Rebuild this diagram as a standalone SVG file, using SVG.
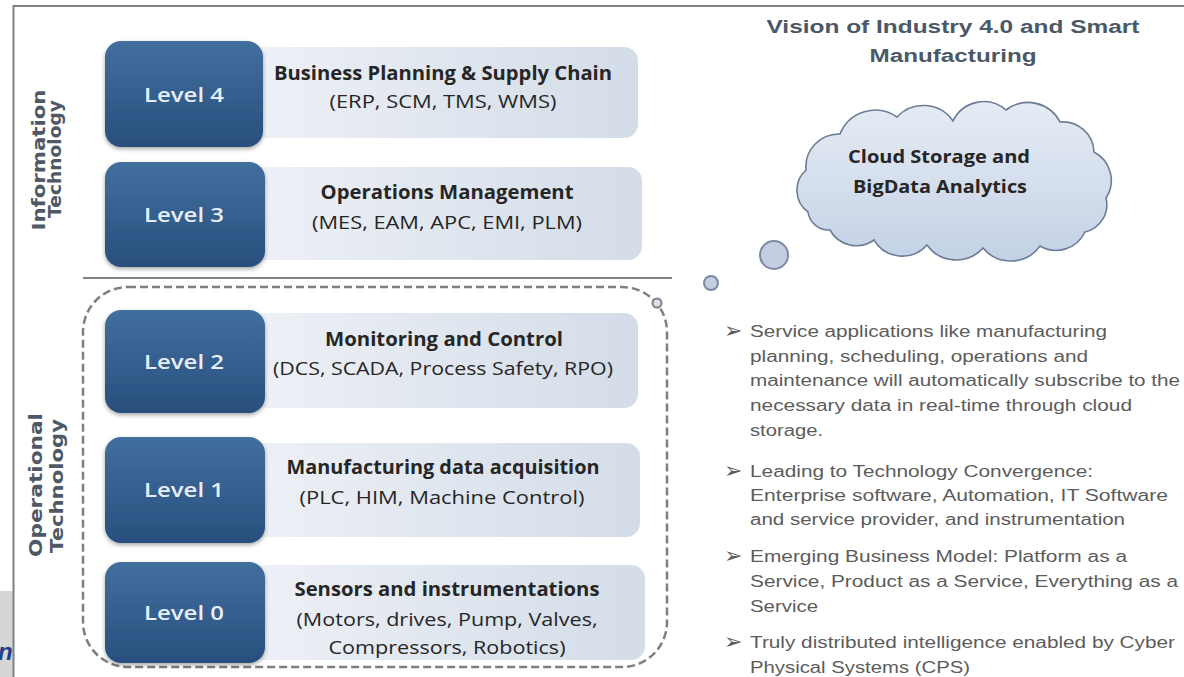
<svg xmlns="http://www.w3.org/2000/svg" width="1184" height="677" viewBox="0 0 1184 677">
<defs>
<linearGradient id="gDark" x1="0" y1="0" x2="0" y2="1">
<stop offset="0" stop-color="#426f9e"/>
<stop offset="1" stop-color="#284f7e"/>
</linearGradient>
<linearGradient id="gLight" x1="0" y1="0" x2="1" y2="0">
<stop offset="0" stop-color="#eef1f6"/>
<stop offset="1" stop-color="#d3dce8"/>
</linearGradient>
<linearGradient id="gCloud" x1="0" y1="0" x2="0" y2="1">
<stop offset="0" stop-color="#e6ecf5"/>
<stop offset="1" stop-color="#c4d1e5"/>
</linearGradient>
<filter id="sh" x="-10%" y="-10%" width="130%" height="130%">
<feDropShadow dx="0" dy="2" stdDeviation="2" flood-color="#000" flood-opacity="0.35"/>
</filter>
<clipPath id="leftClip"><rect x="0" y="580" width="13" height="97"/></clipPath>
<style>
.dark{fill:url(#gDark);filter:url(#sh)}
.light{fill:url(#gLight)}
.lvl{font-family:"Open Sans","Noto Sans",sans-serif;font-weight:600;font-size:19px;fill:#e6eef7;text-anchor:middle}
.hd{font-family:"Open Sans","Noto Sans",sans-serif;font-weight:700;font-size:19px;fill:#262626;text-anchor:middle}
.sub{font-family:"Open Sans","Noto Sans",sans-serif;font-weight:400;font-size:19px;fill:#262626;text-anchor:middle}
.vert{font-family:"DejaVu Sans",sans-serif;font-weight:700;font-size:18px;fill:#4f5966;text-anchor:middle}
.title{font-family:"Liberation Sans",Arial,sans-serif;font-weight:700;font-size:18px;fill:#4b5868;text-anchor:middle}
.cl{font-family:"Open Sans","Noto Sans",sans-serif;font-weight:700;font-size:17px;fill:#262626;text-anchor:middle}
.bt{font-family:"Liberation Sans",Arial,sans-serif;font-size:16px;fill:#5c5c5c}
.bul{font-family:"DejaVu Sans",sans-serif;font-size:22px;fill:#5c5c5c}
.bubble{fill:#c4cee3;stroke:#7b89a2;stroke-width:2}
</style>
</defs>
<rect x="0" y="0" width="1184" height="677" fill="#ffffff"/>
<!-- frame -->
<rect x="0" y="591" width="13" height="86" fill="#d6d6d6"/>
<text x="-2" y="660" clip-path="url(#leftClip)" font-family="Liberation Sans, Arial, sans-serif" font-weight="700" font-style="italic" font-size="24" fill="#1f3d8a">n</text>
<path d="M13.5 677 V6 H1184" fill="none" stroke="#808080" stroke-width="2"/>

<!-- vertical labels -->
<g id="label-it">
<text class="vert" x="45" y="160" transform="rotate(-90 45 160)" textLength="141" lengthAdjust="spacingAndGlyphs">Information</text>
<text class="vert" x="61" y="159" transform="rotate(-90 61 159)" textLength="118" lengthAdjust="spacingAndGlyphs">Technology</text>
</g>
<g id="label-ot">
<text class="vert" x="42" y="485" transform="rotate(-90 42 485)" textLength="144" lengthAdjust="spacingAndGlyphs">Operational</text>
<text class="vert" x="63" y="486" transform="rotate(-90 63 486)" textLength="134" lengthAdjust="spacingAndGlyphs">Technology</text>
</g>

<!-- separator and OT boundary -->
<g id="boundaries">
<line x1="83" y1="278" x2="672" y2="278" stroke="#5a5a5a" stroke-width="1.5"/>
<rect x="83" y="287" width="584" height="380" rx="45" ry="45" fill="none" stroke="#7f7f7f" stroke-width="2.5" stroke-dasharray="8 4"/>
<circle cx="657" cy="303" r="4.5" fill="#d7dfee" stroke="#7f7f7f" stroke-width="2"/>
</g>

<!-- level nodes -->
<g id="level4">
<rect class="light" x="250" y="47" width="388" height="91" rx="14"/>
<rect class="dark" x="105" y="41" width="158" height="106" rx="16"/>
<text class="lvl" x="184" y="102" textLength="80" lengthAdjust="spacingAndGlyphs">Level 4</text>
<text class="hd" x="443" y="80" textLength="338" lengthAdjust="spacingAndGlyphs">Business Planning &amp; Supply Chain</text>
<text class="sub" x="443" y="108" textLength="227" lengthAdjust="spacingAndGlyphs">(ERP, SCM, TMS,  WMS)</text>
</g>
<g id="level3">
<rect class="light" x="250" y="167" width="392" height="93" rx="14"/>
<rect class="dark" x="105" y="162" width="160" height="105" rx="16"/>
<text class="lvl" x="184" y="222" textLength="80" lengthAdjust="spacingAndGlyphs">Level 3</text>
<text class="hd" x="447" y="199" textLength="253" lengthAdjust="spacingAndGlyphs">Operations Management</text>
<text class="sub" x="447" y="229" textLength="270" lengthAdjust="spacingAndGlyphs">(MES, EAM,  APC, EMI, PLM)</text>
</g>
<g id="level2">
<rect class="light" x="250" y="313" width="388" height="95" rx="14"/>
<rect class="dark" x="105" y="310" width="160" height="103" rx="16"/>
<text class="lvl" x="184" y="369" textLength="80" lengthAdjust="spacingAndGlyphs">Level 2</text>
<text class="hd" x="444" y="346" textLength="238" lengthAdjust="spacingAndGlyphs">Monitoring and Control</text>
<text class="sub" x="443" y="375" textLength="340" lengthAdjust="spacingAndGlyphs">(DCS, SCADA, Process Safety, RPO)</text>
</g>
<g id="level1">
<rect class="light" x="250" y="443" width="390" height="94" rx="14"/>
<rect class="dark" x="105" y="437" width="160" height="106" rx="16"/>
<text class="lvl" x="184" y="497" textLength="80" lengthAdjust="spacingAndGlyphs">Level 1</text>
<text class="hd" x="443" y="474" textLength="313" lengthAdjust="spacingAndGlyphs">Manufacturing data acquisition</text>
<text class="sub" x="442" y="504" textLength="285" lengthAdjust="spacingAndGlyphs">(PLC, HIM, Machine Control)</text>
</g>
<g id="level0">
<rect class="light" x="250" y="565" width="395" height="95" rx="14"/>
<rect class="dark" x="105" y="562" width="160" height="101" rx="16"/>
<text class="lvl" x="184" y="620" textLength="80" lengthAdjust="spacingAndGlyphs">Level 0</text>
<text class="hd" x="447" y="596" textLength="305" lengthAdjust="spacingAndGlyphs">Sensors and instrumentations</text>
<text class="sub" x="447" y="626" textLength="301" lengthAdjust="spacingAndGlyphs">(Motors, drives, Pump, Valves,</text>
<text class="sub" x="447" y="654" textLength="237" lengthAdjust="spacingAndGlyphs">Compressors, Robotics)</text>
</g>

<!-- title -->
<g id="title">
<text class="title" x="953" y="33" textLength="373" lengthAdjust="spacingAndGlyphs">Vision of Industry 4.0 and Smart</text>
<text class="title" x="953" y="62" textLength="167" lengthAdjust="spacingAndGlyphs">Manufacturing</text>
</g>

<!-- cloud -->
<g id="cloud">
<path d="M808 212 A27 27 0 0 1 806 170 A33 33 0 0 1 840 134 A38 38 0 0 1 897 117 A36 36 0 0 1 953 121 A34 34 0 0 1 1006 110 A36 36 0 0 1 1060 122 A31 31 0 0 1 1094 152 A32 32 0 0 1 1106 198 A28 28 0 0 1 1085 232 A32 32 0 0 1 1040 246 A36 36 0 0 1 983 248 A36 36 0 0 1 927 245 A33 33 0 0 1 874 240 A30 30 0 0 1 830 230 A21 21 0 0 1 808 212 Z" fill="url(#gCloud)" stroke="#6b7c95" stroke-width="1.6"/>
<text class="cl" x="939" y="163" textLength="182" lengthAdjust="spacingAndGlyphs">Cloud Storage and</text>
<text class="cl" x="940" y="193" textLength="174" lengthAdjust="spacingAndGlyphs">BigData Analytics</text>
</g>

<!-- thought bubbles -->
<g id="connectors">
<circle class="bubble" cx="774" cy="255" r="14"/>
<circle class="bubble" cx="711" cy="283" r="7"/>
</g>

<!-- bullets -->
<g id="bullets">
<text class="bul" x="724" y="338">➢</text>
<text class="bt" x="750" y="337" textLength="357" lengthAdjust="spacingAndGlyphs">Service applications  like  manufacturing</text>
<text class="bt" x="750" y="362" textLength="338" lengthAdjust="spacingAndGlyphs">planning,  scheduling,  operations  and</text>
<text class="bt" x="750" y="386" textLength="430" lengthAdjust="spacingAndGlyphs">maintenance   will automatically  subscribe to the</text>
<text class="bt" x="750" y="411" textLength="382" lengthAdjust="spacingAndGlyphs">necessary data  in real-time  through  cloud</text>
<text class="bt" x="750" y="436" textLength="73" lengthAdjust="spacingAndGlyphs">storage.</text>

<text class="bul" x="724" y="478">➢</text>
<text class="bt" x="750" y="477" textLength="343" lengthAdjust="spacingAndGlyphs">Leading  to Technology  Convergence:</text>
<text class="bt" x="750" y="501" textLength="418" lengthAdjust="spacingAndGlyphs">Enterprise  software, Automation, IT  Software</text>
<text class="bt" x="750" y="525" textLength="375" lengthAdjust="spacingAndGlyphs">and  service provider,  and instrumentation</text>

<text class="bul" x="724" y="563">➢</text>
<text class="bt" x="750" y="562" textLength="377" lengthAdjust="spacingAndGlyphs">Emerging   Business Model:  Platform  as a</text>
<text class="bt" x="750" y="587" textLength="428" lengthAdjust="spacingAndGlyphs">Service, Product  as a Service, Everything  as a</text>
<text class="bt" x="750" y="612" textLength="68" lengthAdjust="spacingAndGlyphs">Service</text>

<text class="bul" x="724" y="649">➢</text>
<text class="bt" x="750" y="648" textLength="425" lengthAdjust="spacingAndGlyphs">Truly distributed  intelligence  enabled by Cyber</text>
<text class="bt" x="750" y="673" textLength="220" lengthAdjust="spacingAndGlyphs">Physical  Systems  (CPS)</text>
</g>
</svg>
